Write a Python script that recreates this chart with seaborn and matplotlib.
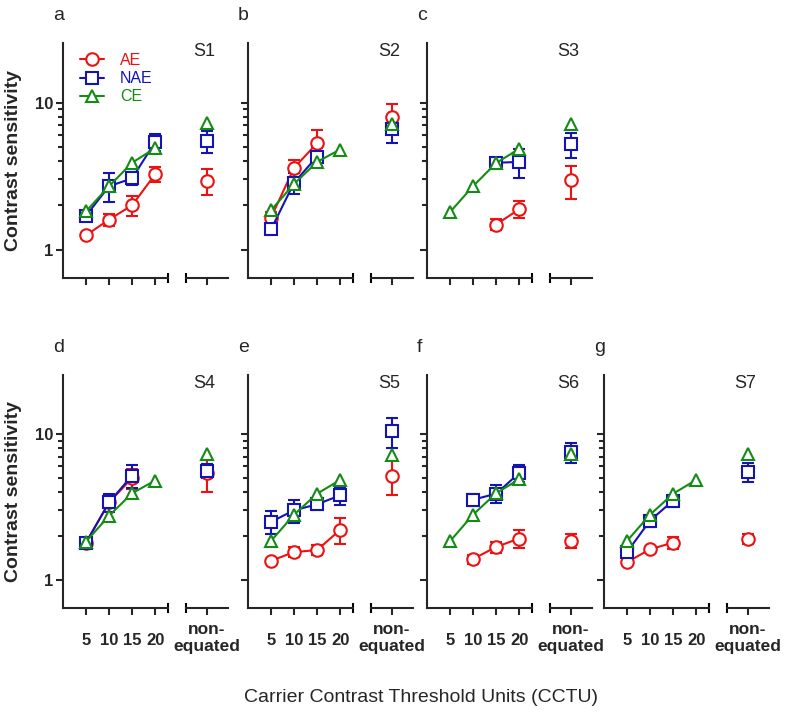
import numpy as np
import pandas as pd
import matplotlib
matplotlib.use("Agg")
import matplotlib.pyplot as plt
from matplotlib.lines import Line2D
from matplotlib.ticker import FixedLocator, NullFormatter
import seaborn as sns

# --- data ---
nan = np.nan
cctu = [5, 10, 15, 20]
subjects = ['S1', 'S2', 'S3', 'S4', 'S5', 'S6', 'S7']
panel_letters = ['a', 'b', 'c', 'd', 'e', 'f', 'g']
conditions = ['AE', 'NAE', 'CE']

ae_cs = {'S1': [1.25, 1.6, 2.0, 3.25], 'S2': [1.65, 3.6, 5.3, nan],
         'S3': [nan, nan, 1.48, 1.88], 'S4': [1.8, 3.4, 5.0, nan],
         'S5': [1.35, 1.55, 1.6, 2.2], 'S6': [nan, 1.39, 1.68, 1.92],
         'S7': [1.32, 1.62, 1.8, nan]}
ae_err = {'S1': [0.05, 0.15, 0.3, 0.38], 'S2': [0.15, 0.5, 1.2, nan],
          'S3': [nan, nan, 0.13, 0.25], 'S4': [0.15, 0.3, 0.8, nan],
          'S5': [0.03, 0.12, 0.12, 0.45], 'S6': [nan, 0.1, 0.15, 0.27],
          'S7': [0.02, 0.05, 0.18, nan]}
nae_cs = {'S1': [1.7, 2.7, 3.05, 5.4], 'S2': [1.37, 2.85, 4.3, nan],
          'S3': [nan, nan, 3.9, 3.95], 'S4': [1.8, 3.4, 5.2, nan],
          'S5': [2.5, 3.0, 3.3, 3.8], 'S6': [nan, 3.55, 3.9, 5.4],
          'S7': [1.55, 2.55, 3.5, nan]}
nae_err = {'S1': [0.1, 0.6, 0.3, 0.7], 'S2': [0.05, 0.45, 0.6, nan],
           'S3': [nan, nan, 0.15, 0.9], 'S4': [0.1, 0.5, 0.9, nan],
           'S5': [0.45, 0.55, 0.3, 0.55], 'S6': [nan, 0.35, 0.55, 0.7],
           'S7': [0.08, 0.25, 0.35, nan]}
ce_cs = {'S1': [1.82, 2.7, 3.9, 4.9], 'S2': [1.85, 2.8, 3.95, 4.8],
         'S3': [1.8, 2.7, 3.88, 4.85], 'S4': [1.83, 2.75, 3.93, 4.8],
         'S5': [1.85, 2.8, 3.9, 4.85], 'S6': [1.84, 2.8, 3.93, 4.9],
         'S7': [1.85, 2.8, 3.9, 4.85]}

# non-equated condition, one value per subject (S1..S7)
ae_neq = [2.95, 8.0, 2.97, 5.4, 5.2, 1.85, 1.92]
ae_neq_err = [0.6, 1.8, 0.75, 1.4, 1.4, 0.2, 0.15]
nae_neq = [5.5, 6.6, 5.2, 5.6, 10.5, 7.5, 5.5]
nae_neq_err = [0.95, 1.3, 1.0, 0.6, 2.4, 1.2, 0.8]
ce_neq = [7.3, 7.2, 7.2, 7.3, 7.2, 7.3, 7.3]

colors = {'AE': '#ee1111', 'NAE': '#1414b4', 'CE': '#148c14'}
markers = {'AE': 'o', 'NAE': 's', 'CE': '^'}

sns.set_style("ticks")
plt.rcParams['font.family'] = ['Liberation Sans', 'DejaVu Sans']
plt.rcParams['axes.linewidth'] = 1.5

W, H = 786, 714
fig = plt.figure(figsize=(W / 100, H / 100), dpi=100)

col_left = [63, 248, 427, 604]
row_top = [43, 375]
row_h = [235, 233]
main_w = 105
neq_off = 123
neq_w = 42
ylim = (0.64, 25.5)
msize = 9


def px_rect(left, top, w, h):
    return [left / W, 1 - (top + h) / H, w / W, h / H]


def draw_series(ax, x, y, err, cond):
    c = colors[cond]
    df = pd.DataFrame({'x': x, 'y': y, 'err': err}).dropna(subset=['y'])
    e = df.dropna(subset=['err'])
    if len(e):
        ax.errorbar(e['x'], e['y'], yerr=e['err'], fmt='none', ecolor=c,
                    elinewidth=1.5, capsize=4.5, capthick=1.5, zorder=2)
    sns.lineplot(data=df, x='x', y='y', ax=ax, color=c, marker=markers[cond],
                 markersize=msize, mec=c, mfc='white', mew=1.5, linewidth=1.5,
                 errorbar=None, legend=False, zorder=3)


def end_cap(ax, xpos, h):
    cap = 5 / h
    ax.plot([xpos, xpos], [-cap, cap], transform=ax.transAxes, clip_on=False,
            color='black', lw=1.5, solid_capstyle='butt')


positions = [(0, 0), (0, 1), (0, 2), (1, 0), (1, 1), (1, 2), (1, 3)]

for i, subj in enumerate(subjects):
    row, col = positions[i]
    left, top, h = col_left[col], row_top[row], row_h[row]

    # main axes: equated CCTU levels
    ax = fig.add_axes(px_rect(left, top, main_w, h))
    draw_series(ax, cctu, ae_cs[subj], ae_err[subj], 'AE')
    draw_series(ax, cctu, nae_cs[subj], nae_err[subj], 'NAE')
    draw_series(ax, cctu, ce_cs[subj], [nan] * 4, 'CE')
    ax.set_yscale('log')
    ax.set_ylim(*ylim)
    ax.set_xlim(0, 22.8)
    ax.yaxis.set_major_locator(FixedLocator([1, 10]))
    ax.yaxis.set_minor_locator(FixedLocator([2, 3, 4, 5, 6, 7, 8, 9]))
    ax.yaxis.set_minor_formatter(NullFormatter())
    ax.set_xticks(cctu)
    ax.set_xticklabels([str(v) for v in cctu], fontweight='bold', fontsize=12)
    ax.set_yticklabels(['1', '10'], fontweight='bold', fontsize=12)
    sns.despine(ax=ax)
    ax.tick_params(axis='x', length=5, width=1.5, pad=13, labelbottom=(row == 1))
    ax.tick_params(axis='y', which='major', length=5, width=1.5, pad=2,
                   labelleft=(col == 0))
    ax.tick_params(axis='y', which='minor', length=3.5, width=1.5)
    ax.set_xlabel('')
    ax.set_ylabel('')
    end_cap(ax, 1, h)

    # non-equated axes
    nx = fig.add_axes(px_rect(left + neq_off, top, neq_w, h))
    draw_series(nx, [0], [ae_neq[i]], [ae_neq_err[i]], 'AE')
    draw_series(nx, [0], [nae_neq[i]], [nae_neq_err[i]], 'NAE')
    draw_series(nx, [0], [ce_neq[i]], [nan], 'CE')
    nx.set_yscale('log')
    nx.set_ylim(*ylim)
    nx.set_xlim(-1, 1)
    nx.set_xticks([0])
    nx.set_xticklabels(['non-\nequated'], fontweight='bold', fontsize=12.5)
    nx.set_yticks([])
    nx.yaxis.set_minor_locator(FixedLocator([]))
    for s in ['left', 'top', 'right']:
        nx.spines[s].set_visible(False)
    nx.tick_params(axis='x', length=5, width=1.5, pad=5, labelbottom=(row == 1))
    nx.set_xlabel('')
    nx.set_ylabel('')
    end_cap(nx, 0, h)

    # panel letter and subject label
    fig.text((left - 10) / W, 1 - (top - 23) / H, panel_letters[i],
             fontsize=14, ha='left', va='baseline')
    fig.text((left + neq_off + 18) / W, 1 - (top + 13) / H, subj,
             fontsize=13, ha='center', va='baseline')

    if i == 0:
        handles = [Line2D([], [], color=colors[c], marker=markers[c],
                          markersize=msize, mec=colors[c], mfc='white', mew=1.5,
                          lw=1.5) for c in conditions]
        ax.legend(handles, conditions, loc='upper left', frameon=False,
                  bbox_to_anchor=(0.1, 0.985), borderaxespad=0,
                  handlelength=1.5, handletextpad=1.0, labelspacing=0.2,
                  fontsize=11.5, labelcolor='linecolor')

# shared axis labels
for r in range(2):
    yc = row_top[r] + row_h[r] / 2
    fig.text(14 / W, 1 - yc / H, 'Contrast sensitivity', rotation=90,
             fontsize=14, fontweight='bold', ha='center', va='center')

fig.text(421 / W, 1 - 697 / H, 'Carrier Contrast Threshold Units (CCTU)',
         fontsize=14, ha='center', va='center')

fig.savefig('out.png', dpi=100)
